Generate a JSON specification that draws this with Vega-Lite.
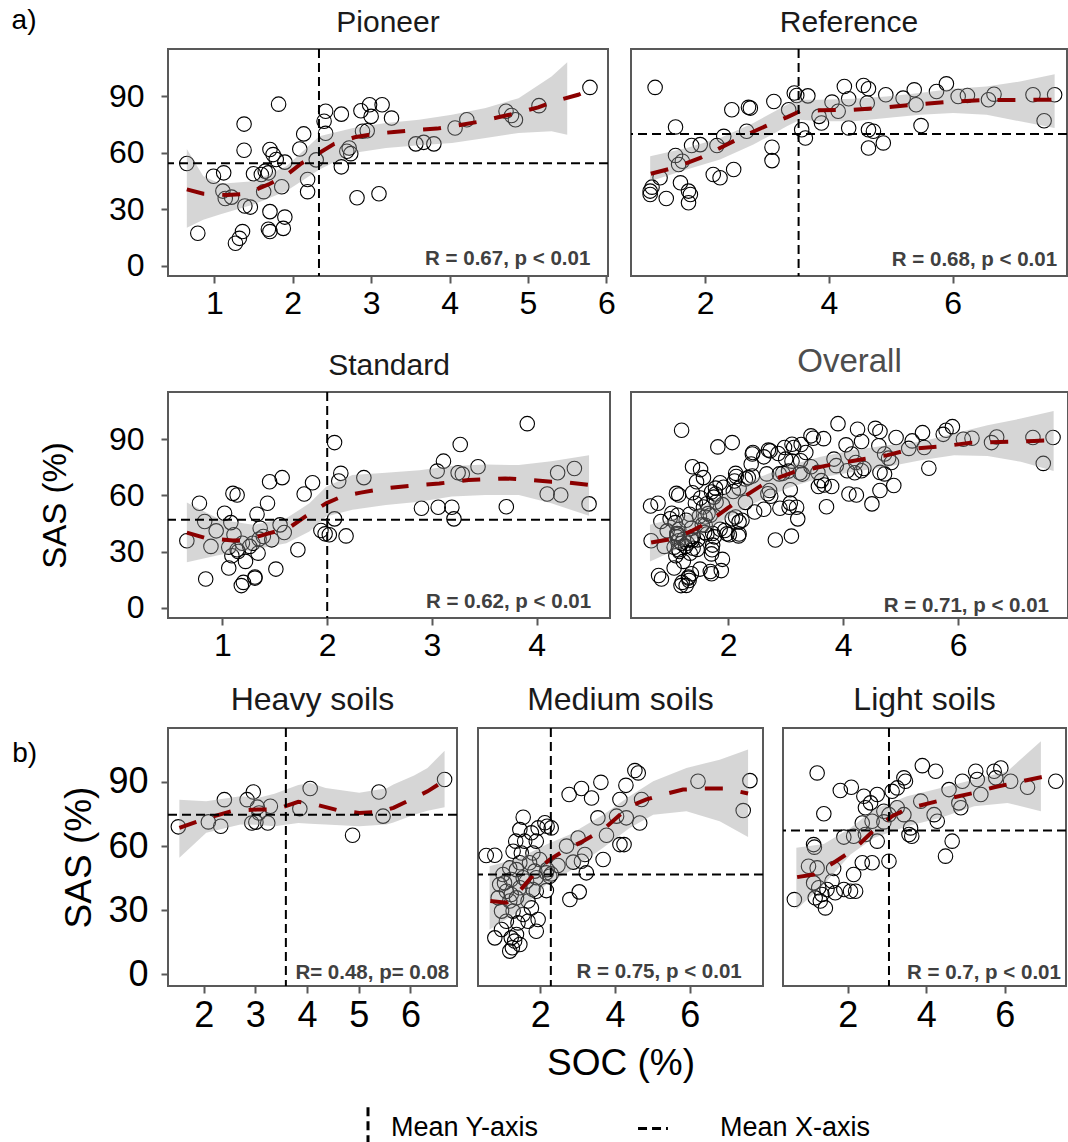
{
"$schema": "https://vega.github.io/schema/vega-lite/v6.json",
"background": "white",
"padding": {"left": 11, "top": 7, "right": 0, "bottom": 0},
"datasets": {
"pts": [
{"g":"Pioneer","x":0.65,"y":54.4},{"g":"Pioneer","x":0.99,"y":47.6},{"g":"Pioneer","x":1.12,"y":49.4},{"g":"Pioneer","x":0.79,"y":17.3},{"g":"Pioneer","x":1.27,"y":12.0},{"g":"Pioneer","x":1.32,"y":14.6},{"g":"Pioneer","x":1.36,"y":18.2},{"g":"Pioneer","x":1.39,"y":31.8},{"g":"Pioneer","x":1.46,"y":31.2},{"g":"Pioneer","x":1.14,"y":35.8},{"g":"Pioneer","x":1.11,"y":39.7},{"g":"Pioneer","x":1.22,"y":36.5},{"g":"Pioneer","x":1.38,"y":75.3},{"g":"Pioneer","x":1.38,"y":61.4},{"g":"Pioneer","x":1.50,"y":48.9},{"g":"Pioneer","x":1.60,"y":48.5},{"g":"Pioneer","x":1.69,"y":49.4},{"g":"Pioneer","x":1.65,"y":50.3},{"g":"Pioneer","x":1.71,"y":61.8},{"g":"Pioneer","x":1.75,"y":59.1},{"g":"Pioneer","x":1.79,"y":56.5},{"g":"Pioneer","x":1.90,"y":55.1},{"g":"Pioneer","x":1.82,"y":85.9},{"g":"Pioneer","x":1.63,"y":39.4},{"g":"Pioneer","x":1.71,"y":28.8},{"g":"Pioneer","x":1.90,"y":25.9},{"g":"Pioneer","x":1.69,"y":19.4},{"g":"Pioneer","x":1.71,"y":18.2},{"g":"Pioneer","x":1.88,"y":19.9},{"g":"Pioneer","x":1.86,"y":42.0},{"g":"Pioneer","x":2.09,"y":62.1},{"g":"Pioneer","x":2.14,"y":70.1},{"g":"Pioneer","x":2.19,"y":45.9},{"g":"Pioneer","x":2.19,"y":39.4},{"g":"Pioneer","x":2.30,"y":56.3},{"g":"Pioneer","x":2.42,"y":82.1},{"g":"Pioneer","x":2.40,"y":76.8},{"g":"Pioneer","x":2.42,"y":70.4},{"g":"Pioneer","x":2.62,"y":80.6},{"g":"Pioneer","x":2.62,"y":52.6},{"g":"Pioneer","x":2.72,"y":62.6},{"g":"Pioneer","x":2.74,"y":59.6},{"g":"Pioneer","x":2.69,"y":60.9},{"g":"Pioneer","x":2.82,"y":36.2},{"g":"Pioneer","x":3.10,"y":38.3},{"g":"Pioneer","x":2.87,"y":82.4},{"g":"Pioneer","x":2.98,"y":85.6},{"g":"Pioneer","x":3.14,"y":85.6},{"g":"Pioneer","x":3.00,"y":79.4},{"g":"Pioneer","x":3.26,"y":78.5},{"g":"Pioneer","x":2.89,"y":71.5},{"g":"Pioneer","x":2.95,"y":71.8},{"g":"Pioneer","x":3.57,"y":64.8},{"g":"Pioneer","x":3.67,"y":65.6},{"g":"Pioneer","x":3.80,"y":64.8},{"g":"Pioneer","x":4.07,"y":73.2},{"g":"Pioneer","x":4.22,"y":77.6},{"g":"Pioneer","x":4.72,"y":82.1},{"g":"Pioneer","x":4.79,"y":79.9},{"g":"Pioneer","x":4.84,"y":77.6},{"g":"Pioneer","x":5.14,"y":85.1},{"g":"Pioneer","x":5.79,"y":94.8},
{"g":"Reference","x":1.19,"y":94.8},{"g":"Reference","x":1.52,"y":73.8},{"g":"Reference","x":1.11,"y":39.7},{"g":"Reference","x":1.11,"y":37.9},{"g":"Reference","x":1.37,"y":35.8},{"g":"Reference","x":1.14,"y":41.8},{"g":"Reference","x":1.60,"y":44.1},{"g":"Reference","x":1.73,"y":39.7},{"g":"Reference","x":1.73,"y":33.5},{"g":"Reference","x":1.76,"y":37.9},{"g":"Reference","x":1.27,"y":46.8},{"g":"Reference","x":1.52,"y":58.6},{"g":"Reference","x":1.57,"y":53.8},{"g":"Reference","x":1.63,"y":55.6},{"g":"Reference","x":1.78,"y":63.9},{"g":"Reference","x":1.92,"y":64.4},{"g":"Reference","x":2.13,"y":48.5},{"g":"Reference","x":2.24,"y":46.8},{"g":"Reference","x":2.46,"y":51.2},{"g":"Reference","x":2.19,"y":63.9},{"g":"Reference","x":2.30,"y":68.8},{"g":"Reference","x":2.43,"y":82.9},{"g":"Reference","x":2.70,"y":84.2},{"g":"Reference","x":2.73,"y":83.8},{"g":"Reference","x":2.67,"y":71.5},{"g":"Reference","x":3.08,"y":63.0},{"g":"Reference","x":3.08,"y":55.9},{"g":"Reference","x":3.11,"y":87.3},{"g":"Reference","x":3.35,"y":82.9},{"g":"Reference","x":3.44,"y":91.8},{"g":"Reference","x":3.48,"y":90.5},{"g":"Reference","x":3.66,"y":90.3},{"g":"Reference","x":3.56,"y":72.3},{"g":"Reference","x":3.62,"y":67.9},{"g":"Reference","x":3.84,"y":79.4},{"g":"Reference","x":3.88,"y":75.9},{"g":"Reference","x":4.05,"y":87.0},{"g":"Reference","x":4.15,"y":82.1},{"g":"Reference","x":4.25,"y":95.3},{"g":"Reference","x":4.32,"y":88.8},{"g":"Reference","x":4.32,"y":73.2},{"g":"Reference","x":4.56,"y":95.8},{"g":"Reference","x":4.64,"y":94.1},{"g":"Reference","x":4.62,"y":86.5},{"g":"Reference","x":4.64,"y":72.3},{"g":"Reference","x":4.72,"y":71.5},{"g":"Reference","x":4.64,"y":62.6},{"g":"Reference","x":4.88,"y":65.3},{"g":"Reference","x":4.92,"y":90.9},{"g":"Reference","x":5.20,"y":89.1},{"g":"Reference","x":5.38,"y":93.5},{"g":"Reference","x":5.41,"y":85.6},{"g":"Reference","x":5.49,"y":74.5},{"g":"Reference","x":5.74,"y":92.6},{"g":"Reference","x":5.90,"y":96.7},{"g":"Reference","x":6.09,"y":90.0},{"g":"Reference","x":6.24,"y":90.5},{"g":"Reference","x":6.58,"y":88.2},{"g":"Reference","x":6.67,"y":91.2},{"g":"Reference","x":7.30,"y":90.9},{"g":"Reference","x":7.48,"y":77.1},{"g":"Reference","x":7.65,"y":90.9},
{"g":"Standard","x":0.66,"y":35.8},{"g":"Standard","x":0.78,"y":55.8},{"g":"Standard","x":0.83,"y":46.1},{"g":"Standard","x":0.89,"y":32.8},{"g":"Standard","x":0.84,"y":15.4},{"g":"Standard","x":0.94,"y":41.1},{"g":"Standard","x":1.02,"y":50.5},{"g":"Standard","x":1.06,"y":32.4},{"g":"Standard","x":1.06,"y":21.3},{"g":"Standard","x":1.08,"y":45.5},{"g":"Standard","x":1.10,"y":61.1},{"g":"Standard","x":1.14,"y":60.2},{"g":"Standard","x":1.11,"y":39.0},{"g":"Standard","x":1.14,"y":31.0},{"g":"Standard","x":1.18,"y":11.9},{"g":"Standard","x":1.20,"y":13.6},{"g":"Standard","x":1.22,"y":24.8},{"g":"Standard","x":1.19,"y":34.5},{"g":"Standard","x":1.29,"y":34.5},{"g":"Standard","x":1.31,"y":15.9},{"g":"Standard","x":1.33,"y":50.0},{"g":"Standard","x":1.31,"y":16.5},{"g":"Standard","x":1.36,"y":42.5},{"g":"Standard","x":1.39,"y":38.1},{"g":"Standard","x":1.34,"y":29.2},{"g":"Standard","x":1.43,"y":55.8},{"g":"Standard","x":1.45,"y":67.3},{"g":"Standard","x":1.57,"y":69.5},{"g":"Standard","x":1.51,"y":20.7},{"g":"Standard","x":1.47,"y":36.3},{"g":"Standard","x":1.55,"y":44.3},{"g":"Standard","x":1.59,"y":40.2},{"g":"Standard","x":1.72,"y":31.0},{"g":"Standard","x":1.78,"y":60.8},{"g":"Standard","x":1.86,"y":66.8},{"g":"Standard","x":1.94,"y":41.3},{"g":"Standard","x":1.98,"y":39.5},{"g":"Standard","x":2.02,"y":39.0},{"g":"Standard","x":2.07,"y":88.2},{"g":"Standard","x":2.07,"y":47.5},{"g":"Standard","x":2.11,"y":67.7},{"g":"Standard","x":2.13,"y":71.8},{"g":"Standard","x":2.18,"y":38.4},{"g":"Standard","x":2.35,"y":69.5},{"g":"Standard","x":2.90,"y":53.2},{"g":"Standard","x":3.06,"y":53.7},{"g":"Standard","x":3.19,"y":53.7},{"g":"Standard","x":3.21,"y":47.5},{"g":"Standard","x":3.05,"y":73.0},{"g":"Standard","x":3.11,"y":78.3},{"g":"Standard","x":3.25,"y":72.1},{"g":"Standard","x":3.29,"y":71.4},{"g":"Standard","x":3.27,"y":87.2},{"g":"Standard","x":3.44,"y":75.3},{"g":"Standard","x":3.71,"y":54.0},{"g":"Standard","x":3.91,"y":98.3},{"g":"Standard","x":4.10,"y":60.8},{"g":"Standard","x":4.23,"y":60.2},{"g":"Standard","x":4.20,"y":72.1},{"g":"Standard","x":4.36,"y":74.4},{"g":"Standard","x":4.50,"y":55.5},{"g":"Standard","x":1.35,"y":36.7},{"g":"Standard","x":1.09,"y":27.8},{"g":"Standard","x":1.15,"y":30.1},{"g":"Standard","x":1.26,"y":32.8}
],
"soil": [
{"g":"Heavy","x":1.51,"y":69.0},{"g":"Heavy","x":2.09,"y":71.3},{"g":"Heavy","x":2.33,"y":69.3},{"g":"Heavy","x":2.40,"y":81.7},{"g":"Heavy","x":2.84,"y":81.7},{"g":"Heavy","x":2.96,"y":85.3},{"g":"Heavy","x":2.93,"y":70.8},{"g":"Heavy","x":3.01,"y":71.2},{"g":"Heavy","x":3.04,"y":78.2},{"g":"Heavy","x":3.24,"y":70.8},{"g":"Heavy","x":3.29,"y":78.6},{"g":"Heavy","x":3.07,"y":75.5},{"g":"Heavy","x":3.86,"y":77.5},{"g":"Heavy","x":4.06,"y":86.9},{"g":"Heavy","x":4.88,"y":65.1},{"g":"Heavy","x":5.39,"y":85.3},{"g":"Heavy","x":5.47,"y":74.0},{"g":"Heavy","x":6.66,"y":91.1},
{"g":"Medium","x":2.77,"y":84.1},{"g":"Medium","x":3.10,"y":86.9},{"g":"Medium","x":3.37,"y":82.5},{"g":"Medium","x":3.62,"y":89.8},{"g":"Medium","x":4.29,"y":88.4},{"g":"Medium","x":4.53,"y":95.3},{"g":"Medium","x":4.62,"y":94.2},{"g":"Medium","x":4.13,"y":81.8},{"g":"Medium","x":4.71,"y":81.8},{"g":"Medium","x":3.54,"y":73.2},{"g":"Medium","x":4.04,"y":74.0},{"g":"Medium","x":4.30,"y":73.2},{"g":"Medium","x":4.66,"y":70.8},{"g":"Medium","x":6.22,"y":90.3},{"g":"Medium","x":7.61,"y":90.6},{"g":"Medium","x":7.43,"y":76.6},{"g":"Medium","x":3.77,"y":65.1},{"g":"Medium","x":4.13,"y":60.7},{"g":"Medium","x":4.24,"y":60.7},{"g":"Medium","x":3.01,"y":63.8},{"g":"Medium","x":2.70,"y":60.0},{"g":"Medium","x":3.19,"y":56.1},{"g":"Medium","x":3.10,"y":52.9},{"g":"Medium","x":2.88,"y":52.5},{"g":"Medium","x":3.68,"y":53.7},{"g":"Medium","x":3.23,"y":47.5},{"g":"Medium","x":2.47,"y":50.9},{"g":"Medium","x":2.79,"y":35.0},{"g":"Medium","x":3.04,"y":38.6},{"g":"Medium","x":2.18,"y":69.3},{"g":"Medium","x":2.12,"y":70.9},{"g":"Medium","x":2.29,"y":68.5},{"g":"Medium","x":2.18,"y":49.0},{"g":"Medium","x":2.16,"y":47.5},{"g":"Medium","x":2.16,"y":39.2},{"g":"Medium","x":0.55,"y":55.6},{"g":"Medium","x":0.78,"y":55.7},{"g":"Medium","x":1.54,"y":73.5},{"g":"Medium","x":1.45,"y":67.7},{"g":"Medium","x":1.76,"y":66.2},{"g":"Medium","x":1.94,"y":68.5},{"g":"Medium","x":1.34,"y":62.3},{"g":"Medium","x":1.58,"y":62.3},{"g":"Medium","x":1.89,"y":62.3},{"g":"Medium","x":1.27,"y":57.6},{"g":"Medium","x":1.49,"y":56.8},{"g":"Medium","x":1.80,"y":56.8},{"g":"Medium","x":1.45,"y":52.2},{"g":"Medium","x":1.71,"y":52.2},{"g":"Medium","x":1.98,"y":53.7},{"g":"Medium","x":1.18,"y":49.8},{"g":"Medium","x":1.36,"y":49.0},{"g":"Medium","x":1.85,"y":48.3},{"g":"Medium","x":1.00,"y":46.7},{"g":"Medium","x":1.22,"y":44.4},{"g":"Medium","x":1.63,"y":43.6},{"g":"Medium","x":1.89,"y":45.2},{"g":"Medium","x":0.91,"y":42.0},{"g":"Medium","x":1.09,"y":38.9},{"g":"Medium","x":1.45,"y":40.5},{"g":"Medium","x":1.80,"y":39.7},{"g":"Medium","x":0.87,"y":35.8},{"g":"Medium","x":1.18,"y":34.3},{"g":"Medium","x":1.36,"y":35.8},{"g":"Medium","x":1.67,"y":34.3},{"g":"Medium","x":1.89,"y":38.9},{"g":"Medium","x":0.96,"y":29.6},{"g":"Medium","x":1.27,"y":29.6},{"g":"Medium","x":1.54,"y":28.0},{"g":"Medium","x":1.76,"y":31.1},{"g":"Medium","x":1.09,"y":24.9},{"g":"Medium","x":1.40,"y":24.1},{"g":"Medium","x":1.67,"y":24.9},{"g":"Medium","x":1.94,"y":25.7},{"g":"Medium","x":0.78,"y":17.1},{"g":"Medium","x":0.96,"y":21.0},{"g":"Medium","x":1.22,"y":17.1},{"g":"Medium","x":1.31,"y":15.6},{"g":"Medium","x":1.36,"y":18.7},{"g":"Medium","x":1.25,"y":12.5},{"g":"Medium","x":1.18,"y":10.9},{"g":"Medium","x":1.45,"y":14.0},{"g":"Medium","x":1.89,"y":20.2},{"g":"Medium","x":1.04,"y":42.8},{"g":"Medium","x":1.54,"y":45.2},{"g":"Medium","x":1.22,"y":37.4},{"g":"Medium","x":2.25,"y":45.9},{"g":"Medium","x":2.29,"y":47.0},
{"g":"Light","x":1.22,"y":94.2},{"g":"Light","x":1.39,"y":75.1},{"g":"Light","x":1.13,"y":60.7},{"g":"Light","x":1.15,"y":59.5},{"g":"Light","x":1.00,"y":50.6},{"g":"Light","x":1.22,"y":49.8},{"g":"Light","x":0.64,"y":35.0},{"g":"Light","x":1.64,"y":49.5},{"g":"Light","x":1.13,"y":42.8},{"g":"Light","x":1.26,"y":40.5},{"g":"Light","x":1.17,"y":35.8},{"g":"Light","x":1.30,"y":34.3},{"g":"Light","x":1.43,"y":31.1},{"g":"Light","x":1.34,"y":37.4},{"g":"Light","x":1.47,"y":39.7},{"g":"Light","x":1.60,"y":43.6},{"g":"Light","x":1.68,"y":38.2},{"g":"Light","x":1.90,"y":39.7},{"g":"Light","x":2.07,"y":38.9},{"g":"Light","x":2.20,"y":38.9},{"g":"Light","x":2.15,"y":46.7},{"g":"Light","x":2.37,"y":52.2},{"g":"Light","x":2.62,"y":52.2},{"g":"Light","x":3.05,"y":52.9},{"g":"Light","x":1.90,"y":64.2},{"g":"Light","x":2.15,"y":64.6},{"g":"Light","x":2.45,"y":65.4},{"g":"Light","x":2.75,"y":62.3},{"g":"Light","x":1.81,"y":86.0},{"g":"Light","x":2.09,"y":87.5},{"g":"Light","x":2.41,"y":83.3},{"g":"Light","x":2.45,"y":77.9},{"g":"Light","x":2.58,"y":80.2},{"g":"Light","x":2.75,"y":84.1},{"g":"Light","x":2.37,"y":70.8},{"g":"Light","x":2.62,"y":71.6},{"g":"Light","x":2.92,"y":71.3},{"g":"Light","x":3.13,"y":85.6},{"g":"Light","x":3.26,"y":87.2},{"g":"Light","x":3.43,"y":91.9},{"g":"Light","x":3.47,"y":90.3},{"g":"Light","x":3.05,"y":74.7},{"g":"Light","x":3.43,"y":74.7},{"g":"Light","x":3.60,"y":68.5},{"g":"Light","x":3.56,"y":65.4},{"g":"Light","x":3.63,"y":64.6},{"g":"Light","x":3.86,"y":81.0},{"g":"Light","x":3.90,"y":97.6},{"g":"Light","x":4.24,"y":95.0},{"g":"Light","x":4.20,"y":74.7},{"g":"Light","x":4.28,"y":71.6},{"g":"Light","x":4.66,"y":62.3},{"g":"Light","x":4.49,"y":55.3},{"g":"Light","x":4.58,"y":86.4},{"g":"Light","x":4.83,"y":80.2},{"g":"Light","x":4.88,"y":77.9},{"g":"Light","x":4.92,"y":90.3},{"g":"Light","x":5.26,"y":95.0},{"g":"Light","x":5.30,"y":91.1},{"g":"Light","x":5.39,"y":84.1},{"g":"Light","x":5.73,"y":95.0},{"g":"Light","x":5.90,"y":96.5},{"g":"Light","x":5.77,"y":91.9},{"g":"Light","x":6.15,"y":90.3},{"g":"Light","x":6.58,"y":87.5},{"g":"Light","x":7.30,"y":90.3},{"g":"Light","x":2.92,"y":76.3},{"g":"Light","x":3.26,"y":77.9}
],
"fit": [
{"g":"Pioneer","x":0.65,"f":40.6},{"g":"Pioneer","x":0.86,"f":38.3},{"g":"Pioneer","x":1.16,"f":37.6},{"g":"Pioneer","x":1.41,"f":38.3},{"g":"Pioneer","x":1.71,"f":43.6},{"g":"Pioneer","x":1.92,"f":48.2},{"g":"Pioneer","x":2.11,"f":54.4},{"g":"Pioneer","x":2.32,"f":59.5},{"g":"Pioneer","x":2.53,"f":64.8},{"g":"Pioneer","x":2.79,"f":68.3},{"g":"Pioneer","x":3.06,"f":70.2},{"g":"Pioneer","x":3.29,"f":71.1},{"g":"Pioneer","x":3.61,"f":72.3},{"g":"Pioneer","x":3.84,"f":72.9},{"g":"Pioneer","x":4.10,"f":74.6},{"g":"Pioneer","x":4.35,"f":76.4},{"g":"Pioneer","x":4.62,"f":78.9},{"g":"Pioneer","x":4.86,"f":81.2},{"g":"Pioneer","x":5.13,"f":84.2},{"g":"Pioneer","x":5.36,"f":87.7},{"g":"Pioneer","x":5.64,"f":90.9},{"g":"Pioneer","x":5.79,"f":93.5},
{"g":"Reference","x":1.12,"f":48.9},{"g":"Reference","x":1.49,"f":52.1},{"g":"Reference","x":1.92,"f":57.3},{"g":"Reference","x":2.24,"f":62.6},{"g":"Reference","x":2.67,"f":69.7},{"g":"Reference","x":3.05,"f":75.3},{"g":"Reference","x":3.32,"f":78.9},{"g":"Reference","x":3.53,"f":82.1},{"g":"Reference","x":3.86,"f":82.6},{"g":"Reference","x":4.40,"f":82.9},{"g":"Reference","x":4.93,"f":84.2},{"g":"Reference","x":5.47,"f":85.9},{"g":"Reference","x":6.01,"f":87.3},{"g":"Reference","x":6.55,"f":88.1},{"g":"Reference","x":7.30,"f":88.2},{"g":"Reference","x":7.65,"f":88.3},
{"g":"Standard","x":0.66,"f":40.2},{"g":"Standard","x":0.84,"f":37.2},{"g":"Standard","x":1.10,"f":36.0},{"g":"Standard","x":1.23,"f":36.3},{"g":"Standard","x":1.45,"f":39.9},{"g":"Standard","x":1.63,"f":42.5},{"g":"Standard","x":1.80,"f":49.1},{"g":"Standard","x":1.99,"f":55.8},{"g":"Standard","x":2.15,"f":59.7},{"g":"Standard","x":2.32,"f":61.5},{"g":"Standard","x":2.56,"f":63.8},{"g":"Standard","x":2.88,"f":65.6},{"g":"Standard","x":3.07,"f":66.4},{"g":"Standard","x":3.35,"f":68.2},{"g":"Standard","x":3.70,"f":69.1},{"g":"Standard","x":3.86,"f":68.6},{"g":"Standard","x":4.14,"f":67.3},{"g":"Standard","x":4.24,"f":67.3},{"g":"Standard","x":4.50,"f":65.6},
{"g":"Overall","x":0.66,"f":34.9},{"g":"Overall","x":1.00,"f":36.7},{"g":"Overall","x":1.35,"f":40.8},{"g":"Overall","x":1.64,"f":45.5},{"g":"Overall","x":1.99,"f":53.2},{"g":"Overall","x":2.28,"f":59.4},{"g":"Overall","x":2.68,"f":67.3},{"g":"Overall","x":3.15,"f":72.6},{"g":"Overall","x":3.47,"f":74.4},{"g":"Overall","x":3.90,"f":77.1},{"g":"Overall","x":4.19,"f":78.5},{"g":"Overall","x":4.77,"f":81.5},{"g":"Overall","x":5.23,"f":85.0},{"g":"Overall","x":5.76,"f":86.3},{"g":"Overall","x":6.22,"f":88.1},{"g":"Overall","x":7.32,"f":89.1},{"g":"Overall","x":7.64,"f":89.5},
{"g":"Heavy","x":1.53,"f":68.5},{"g":"Heavy","x":2.05,"f":72.9},{"g":"Heavy","x":2.58,"f":76.6},{"g":"Heavy","x":3.04,"f":77.1},{"g":"Heavy","x":3.40,"f":77.1},{"g":"Heavy","x":3.83,"f":80.7},{"g":"Heavy","x":4.13,"f":79.7},{"g":"Heavy","x":4.62,"f":76.6},{"g":"Heavy","x":5.01,"f":75.5},{"g":"Heavy","x":5.41,"f":76.0},{"g":"Heavy","x":5.67,"f":77.9},{"g":"Heavy","x":6.07,"f":82.5},{"g":"Heavy","x":6.33,"f":85.6},{"g":"Heavy","x":6.66,"f":90.6},
{"g":"Medium","x":0.66,"f":34.3},{"g":"Medium","x":1.09,"f":33.5},{"g":"Medium","x":1.36,"f":37.4},{"g":"Medium","x":1.67,"f":43.6},{"g":"Medium","x":1.98,"f":49.8},{"g":"Medium","x":2.25,"f":53.7},{"g":"Medium","x":2.61,"f":57.6},{"g":"Medium","x":3.14,"f":62.3},{"g":"Medium","x":3.68,"f":67.7},{"g":"Medium","x":4.04,"f":73.2},{"g":"Medium","x":4.39,"f":78.6},{"g":"Medium","x":4.84,"f":81.8},{"g":"Medium","x":5.29,"f":84.1},{"g":"Medium","x":5.82,"f":86.4},{"g":"Medium","x":6.36,"f":86.9},{"g":"Medium","x":6.89,"f":86.9},{"g":"Medium","x":7.29,"f":85.6},{"g":"Medium","x":7.56,"f":84.6},
{"g":"Light","x":0.71,"f":45.5},{"g":"Light","x":1.13,"f":46.7},{"g":"Light","x":1.64,"f":52.2},{"g":"Light","x":2.15,"f":58.4},{"g":"Light","x":2.66,"f":67.3},{"g":"Light","x":3.13,"f":74.0},{"g":"Light","x":3.51,"f":77.4},{"g":"Light","x":4.11,"f":80.2},{"g":"Light","x":4.62,"f":82.5},{"g":"Light","x":5.22,"f":84.9},{"g":"Light","x":5.73,"f":87.5},{"g":"Light","x":6.24,"f":89.5},{"g":"Light","x":6.92,"f":92.2},{"g":"Light","x":7.30,"f":93.7}
],
"band": [
{"g":"Pioneer","x":0.65,"lo":20.3,"hi":62.1},{"g":"Pioneer","x":0.86,"lo":24.5,"hi":47.6},{"g":"Pioneer","x":1.08,"lo":27.4,"hi":43.6},{"g":"Pioneer","x":1.50,"lo":32.6,"hi":45.0},{"g":"Pioneer","x":1.92,"lo":39.7,"hi":52.9},{"g":"Pioneer","x":2.34,"lo":51.2,"hi":68.8},{"g":"Pioneer","x":2.77,"lo":60.0,"hi":73.2},{"g":"Pioneer","x":3.19,"lo":62.6,"hi":75.9},{"g":"Pioneer","x":3.61,"lo":64.1,"hi":77.6},{"g":"Pioneer","x":4.03,"lo":65.3,"hi":80.3},{"g":"Pioneer","x":4.46,"lo":67.9,"hi":83.8},{"g":"Pioneer","x":4.88,"lo":70.6,"hi":89.1},{"g":"Pioneer","x":5.30,"lo":71.5,"hi":100.6},{"g":"Pioneer","x":5.50,"lo":69.7,"hi":108.2},
{"g":"Reference","x":1.11,"lo":45.0,"hi":58.2},{"g":"Reference","x":1.70,"lo":51.2,"hi":62.6},{"g":"Reference","x":2.24,"lo":56.5,"hi":67.9},{"g":"Reference","x":2.78,"lo":64.4,"hi":75.9},{"g":"Reference","x":3.32,"lo":74.1,"hi":85.6},{"g":"Reference","x":3.53,"lo":77.6,"hi":88.2},{"g":"Reference","x":3.86,"lo":76.8,"hi":88.2},{"g":"Reference","x":4.40,"lo":76.8,"hi":88.8},{"g":"Reference","x":4.93,"lo":78.5,"hi":90.0},{"g":"Reference","x":5.47,"lo":80.3,"hi":91.8},{"g":"Reference","x":6.01,"lo":81.2,"hi":94.1},{"g":"Reference","x":6.55,"lo":80.3,"hi":95.3},{"g":"Reference","x":7.09,"lo":76.8,"hi":97.9},{"g":"Reference","x":7.65,"lo":73.2,"hi":101.8},
{"g":"Standard","x":0.66,"lo":24.3,"hi":56.2},{"g":"Standard","x":0.98,"lo":28.3,"hi":47.0},{"g":"Standard","x":1.29,"lo":31.0,"hi":44.3},{"g":"Standard","x":1.61,"lo":34.5,"hi":47.8},{"g":"Standard","x":1.83,"lo":40.8,"hi":55.8},{"g":"Standard","x":1.99,"lo":48.7,"hi":64.7},{"g":"Standard","x":2.24,"lo":52.3,"hi":70.9},{"g":"Standard","x":2.56,"lo":54.9,"hi":72.1},{"g":"Standard","x":2.88,"lo":56.7,"hi":73.5},{"g":"Standard","x":3.19,"lo":59.4,"hi":75.7},{"g":"Standard","x":3.51,"lo":60.2,"hi":76.5},{"g":"Standard","x":3.83,"lo":60.2,"hi":76.2},{"g":"Standard","x":4.14,"lo":55.8,"hi":78.3},{"g":"Standard","x":4.50,"lo":49.1,"hi":81.5},
{"g":"Overall","x":0.64,"lo":24.8,"hi":44.3},{"g":"Overall","x":1.29,"lo":33.7,"hi":49.6},{"g":"Overall","x":1.87,"lo":46.1,"hi":59.4},{"g":"Overall","x":2.45,"lo":55.8,"hi":68.6},{"g":"Overall","x":3.03,"lo":63.8,"hi":75.7},{"g":"Overall","x":3.61,"lo":69.6,"hi":80.6},{"g":"Overall","x":4.19,"lo":72.6,"hi":84.2},{"g":"Overall","x":4.77,"lo":75.3,"hi":86.8},{"g":"Overall","x":5.35,"lo":78.8,"hi":88.6},{"g":"Overall","x":5.93,"lo":81.5,"hi":93.0},{"g":"Overall","x":6.51,"lo":81.0,"hi":97.4},{"g":"Overall","x":7.09,"lo":78.0,"hi":101.0},{"g":"Overall","x":7.66,"lo":73.0,"hi":105.1},
{"g":"Heavy","x":1.53,"lo":54.5,"hi":81.7},{"g":"Heavy","x":2.05,"lo":66.2,"hi":81.0},{"g":"Heavy","x":2.71,"lo":70.1,"hi":83.3},{"g":"Heavy","x":3.04,"lo":70.0,"hi":82.5},{"g":"Heavy","x":3.37,"lo":69.3,"hi":84.5},{"g":"Heavy","x":3.83,"lo":70.8,"hi":88.5},{"g":"Heavy","x":4.06,"lo":70.5,"hi":89.5},{"g":"Heavy","x":4.36,"lo":70.1,"hi":87.2},{"g":"Heavy","x":5.01,"lo":69.3,"hi":84.9},{"g":"Heavy","x":5.54,"lo":70.1,"hi":87.0},{"g":"Heavy","x":5.67,"lo":71.0,"hi":88.8},{"g":"Heavy","x":6.07,"lo":74.7,"hi":93.0},{"g":"Heavy","x":6.33,"lo":76.5,"hi":96.5},{"g":"Heavy","x":6.66,"lo":78.2,"hi":104.6},
{"g":"Medium","x":0.64,"lo":21.0,"hi":50.6},{"g":"Medium","x":1.45,"lo":29.6,"hi":54.5},{"g":"Medium","x":2.16,"lo":42.0,"hi":60.7},{"g":"Medium","x":2.79,"lo":48.3,"hi":65.4},{"g":"Medium","x":3.68,"lo":59.2,"hi":74.7},{"g":"Medium","x":4.39,"lo":68.5,"hi":83.3},{"g":"Medium","x":5.02,"lo":74.7,"hi":90.3},{"g":"Medium","x":5.91,"lo":76.3,"hi":96.5},{"g":"Medium","x":6.80,"lo":71.6,"hi":100.4},{"g":"Medium","x":7.56,"lo":64.2,"hi":105.1},
{"g":"Light","x":0.69,"lo":30.4,"hi":59.2},{"g":"Light","x":1.39,"lo":42.0,"hi":61.0},{"g":"Light","x":2.07,"lo":56.1,"hi":68.5},{"g":"Light","x":2.66,"lo":63.8,"hi":77.1},{"g":"Light","x":3.51,"lo":69.3,"hi":83.3},{"g":"Light","x":4.37,"lo":73.2,"hi":87.2},{"g":"Light","x":5.22,"lo":78.6,"hi":91.1},{"g":"Light","x":6.07,"lo":80.2,"hi":95.0},{"g":"Light","x":6.92,"lo":76.3,"hi":109.0}
],
"means": [
{"g":"Pioneer","kind":"Mean Y-axis","v":2.335},{"g":"Pioneer","kind":"Mean X-axis","v":54.5},
{"g":"Reference","kind":"Mean Y-axis","v":3.51},{"g":"Reference","kind":"Mean X-axis","v":70.1},
{"g":"Standard","kind":"Mean Y-axis","v":2.0},{"g":"Standard","kind":"Mean X-axis","v":47.0},
{"g":"Heavy","kind":"Mean Y-axis","v":3.59},{"g":"Heavy","kind":"Mean X-axis","v":74.7},
{"g":"Medium","kind":"Mean Y-axis","v":2.28},{"g":"Medium","kind":"Mean X-axis","v":46.7},
{"g":"Light","kind":"Mean Y-axis","v":3.05},{"g":"Light","kind":"Mean X-axis","v":67.3}
],
"notes": [
{"g":"Pioneer","x":5.795,"y":0.5,"label":"R = 0.67, p < 0.01"},
{"g":"Reference","x":7.69,"y":-0.3,"label":"R = 0.68, p < 0.01"},
{"g":"Standard","x":4.52,"y":0,"label":"R = 0.62, p < 0.01"},
{"g":"Overall","x":7.58,"y":-2,"label":"R = 0.71, p < 0.01"},
{"g":"Heavy","x":6.75,"y":-2.2,"label":"R= 0.48, p= 0.08"},
{"g":"Medium","x":7.39,"y":-1.7,"label":"R = 0.75, p < 0.01"},
{"g":"Light","x":7.43,"y":-2.2,"label":"R = 0.7, p < 0.01"}
]
},
"config": {
"view": {"stroke": "#595959", "strokeWidth": 2},
"axis": {"grid": false, "domain": false, "format": "d", "labelFlush": false, "labelOverlap": false, "tickColor": "#595959", "tickWidth": 2, "tickSize": 7, "labelFont": "Liberation Sans", "labelFontSize": 32, "labelColor": "black", "titleFont": "Liberation Sans", "titleFontSize": 33, "titleFontWeight": "normal", "titleColor": "black"},
"axisX": {"labelPadding": 5},
"axisY": {"labelPadding": 17},
"title": {"font": "Liberation Sans", "fontSize": 30, "fontWeight": "normal", "color": "#1a1a1a", "offset": 10}
},
"resolve": {"scale": {"strokeDash": "shared"}, "legend": {"strokeDash": "shared"}},
"concat": [
{
"columns": 2,
"spacing": {"row": 25, "column": 12},
"title": {"text": "a)", "orient": "left", "anchor": "end", "angle": 0, "align": "right", "baseline": "top", "offset": 0, "dx": 23, "font": "Liberation Sans", "fontSize": 28, "color": "black"},
"concat": [
{"width": 440, "height": 227, "title": {"text": "Pioneer"},
"layer": [
{"data": {"name": "pts"}, "transform": [{"filter": "datum.g === 'Pioneer'"}], "mark": {"type": "point", "shape": "circle", "filled": false, "stroke": "black", "strokeWidth": 1.1, "size": 210, "opacity": 1},
"encoding": {"x": {"field": "x", "type": "quantitative", "scale": {"domain": [0.41, 6.02], "nice": false, "zero": false}, "axis": {"values": [1,2,3,4,5,6], "title": null}},
"y": {"field": "y", "type": "quantitative", "scale": {"domain": [-5.4, 115.2], "nice": false, "zero": false}, "axis": {"values": [0,30,60,90], "title": null}}}},
{"data": {"name": "band"}, "transform": [{"filter": "datum.g === 'Pioneer'"}], "mark": {"type": "area", "color": "#999999", "opacity": 0.4},
"encoding": {"x": {"field": "x", "type": "quantitative"}, "y": {"field": "lo", "type": "quantitative"}, "y2": {"field": "hi"}}},
{"data": {"name": "fit"}, "transform": [{"filter": "datum.g === 'Pioneer'"}], "mark": {"type": "line", "color": "#8b0000", "strokeWidth": 4, "strokeDash": [18, 18]},
"encoding": {"x": {"field": "x", "type": "quantitative"}, "y": {"field": "f", "type": "quantitative"}}},
{"data": {"name": "means"}, "transform": [{"filter": "datum.g === 'Pioneer' && datum.kind === 'Mean Y-axis'"}], "mark": {"type": "rule", "color": "black", "strokeWidth": 2},
"encoding": {"x": {"field": "v", "type": "quantitative"}, "strokeDash": {"field": "kind", "type": "nominal", "scale": {"domain": ["Mean Y-axis", "Mean X-axis"], "range": [[9, 5], [9, 5]]},
"legend": {"title": null, "orient": "none", "legendX": 177, "legendY": 1056, "direction": "horizontal", "labelFont": "Liberation Sans", "labelFontSize": 27, "labelColor": "black", "symbolStrokeColor": "black", "symbolStrokeWidth": 3, "columnPadding": 93, "labelOffset": 0, "encode": {"symbols": {"update": {"shape": {"signal": "datum.value === 'Mean Y-axis' ? 'M0,-1L0,1' : 'M0,-1M-2.78,0L-1.37,0M0,1'"}, "size": {"value": 1800}}}}}}}},
{"data": {"name": "means"}, "transform": [{"filter": "datum.g === 'Pioneer' && datum.kind === 'Mean X-axis'"}], "mark": {"type": "rule", "color": "black", "strokeWidth": 2},
"encoding": {"y": {"field": "v", "type": "quantitative"}, "strokeDash": {"field": "kind", "type": "nominal"}}},
{"data": {"name": "notes"}, "transform": [{"filter": "datum.g === 'Pioneer'"}], "mark": {"type": "text", "align": "right", "baseline": "alphabetic", "font": "Liberation Sans", "fontWeight": "bold", "fontSize": 20.5, "color": "#404040"},
"encoding": {"x": {"field": "x", "type": "quantitative"}, "y": {"field": "y", "type": "quantitative"}, "text": {"field": "label"}}}
]},
{"width": 436, "height": 227, "title": {"text": "Reference"},
"layer": [
{"data": {"name": "pts"}, "transform": [{"filter": "datum.g === 'Reference'"}], "mark": {"type": "point", "shape": "circle", "filled": false, "stroke": "black", "strokeWidth": 1.1, "size": 210, "opacity": 1},
"encoding": {"x": {"field": "x", "type": "quantitative", "scale": {"domain": [0.80, 7.85], "nice": false, "zero": false}, "axis": {"values": [2,4,6], "title": null}},
"y": {"field": "y", "type": "quantitative", "scale": {"domain": [-5.4, 115.2], "nice": false, "zero": false}, "axis": null}}},
{"data": {"name": "band"}, "transform": [{"filter": "datum.g === 'Reference'"}], "mark": {"type": "area", "color": "#999999", "opacity": 0.4},
"encoding": {"x": {"field": "x", "type": "quantitative"}, "y": {"field": "lo", "type": "quantitative"}, "y2": {"field": "hi"}}},
{"data": {"name": "fit"}, "transform": [{"filter": "datum.g === 'Reference'"}], "mark": {"type": "line", "color": "#8b0000", "strokeWidth": 4, "strokeDash": [18, 18]},
"encoding": {"x": {"field": "x", "type": "quantitative"}, "y": {"field": "f", "type": "quantitative"}}},
{"data": {"name": "means"}, "transform": [{"filter": "datum.g === 'Reference' && datum.kind === 'Mean Y-axis'"}], "mark": {"type": "rule", "color": "black", "strokeWidth": 2},
"encoding": {"x": {"field": "v", "type": "quantitative"}, "strokeDash": {"field": "kind", "type": "nominal"}}},
{"data": {"name": "means"}, "transform": [{"filter": "datum.g === 'Reference' && datum.kind === 'Mean X-axis'"}], "mark": {"type": "rule", "color": "black", "strokeWidth": 2},
"encoding": {"y": {"field": "v", "type": "quantitative"}, "strokeDash": {"field": "kind", "type": "nominal"}}},
{"data": {"name": "notes"}, "transform": [{"filter": "datum.g === 'Reference'"}], "mark": {"type": "text", "align": "right", "baseline": "alphabetic", "font": "Liberation Sans", "fontWeight": "bold", "fontSize": 20.5, "color": "#404040"},
"encoding": {"x": {"field": "x", "type": "quantitative"}, "y": {"field": "y", "type": "quantitative"}, "text": {"field": "label"}}}
]},
{"width": 442, "height": 226, "title": {"text": "Standard"},
"layer": [
{"data": {"name": "pts"}, "transform": [{"filter": "datum.g === 'Standard'"}], "mark": {"type": "point", "shape": "circle", "filled": false, "stroke": "black", "strokeWidth": 1.1, "size": 210, "opacity": 1},
"encoding": {"x": {"field": "x", "type": "quantitative", "scale": {"domain": [0.48, 4.70], "nice": false, "zero": false}, "axis": {"values": [1,2,3,4], "title": null}},
"y": {"field": "y", "type": "quantitative", "scale": {"domain": [-5.4, 115.2], "nice": false, "zero": false}, "axis": {"values": [0,30,60,90], "title": "SAS (%)", "titlePadding": 36}}}},
{"data": {"name": "band"}, "transform": [{"filter": "datum.g === 'Standard'"}], "mark": {"type": "area", "color": "#999999", "opacity": 0.4},
"encoding": {"x": {"field": "x", "type": "quantitative"}, "y": {"field": "lo", "type": "quantitative"}, "y2": {"field": "hi"}}},
{"data": {"name": "fit"}, "transform": [{"filter": "datum.g === 'Standard'"}], "mark": {"type": "line", "color": "#8b0000", "strokeWidth": 4, "strokeDash": [18, 18]},
"encoding": {"x": {"field": "x", "type": "quantitative"}, "y": {"field": "f", "type": "quantitative"}}},
{"data": {"name": "means"}, "transform": [{"filter": "datum.g === 'Standard' && datum.kind === 'Mean Y-axis'"}], "mark": {"type": "rule", "color": "black", "strokeWidth": 2},
"encoding": {"x": {"field": "v", "type": "quantitative"}, "strokeDash": {"field": "kind", "type": "nominal"}}},
{"data": {"name": "means"}, "transform": [{"filter": "datum.g === 'Standard' && datum.kind === 'Mean X-axis'"}], "mark": {"type": "rule", "color": "black", "strokeWidth": 2},
"encoding": {"y": {"field": "v", "type": "quantitative"}, "strokeDash": {"field": "kind", "type": "nominal"}}},
{"data": {"name": "notes"}, "transform": [{"filter": "datum.g === 'Standard'"}], "mark": {"type": "text", "align": "right", "baseline": "alphabetic", "font": "Liberation Sans", "fontWeight": "bold", "fontSize": 20.5, "color": "#404040"},
"encoding": {"x": {"field": "x", "type": "quantitative"}, "y": {"field": "y", "type": "quantitative"}, "text": {"field": "label"}}}
]},
{"width": 437, "height": 226, "title": {"text": "Overall", "font": "Liberation Sans", "fontSize": 33, "color": "#4d4d4d", "offset": 13},
"layer": [
{"data": {"name": "pts"}, "mark": {"type": "point", "shape": "circle", "filled": false, "stroke": "black", "strokeWidth": 1.1, "size": 210, "opacity": 1},
"encoding": {"x": {"field": "x", "type": "quantitative", "scale": {"domain": [0.31, 7.91], "nice": false, "zero": false}, "axis": {"values": [2,4,6], "title": null}},
"y": {"field": "y", "type": "quantitative", "scale": {"domain": [-5.4, 115.2], "nice": false, "zero": false}, "axis": null}}},
{"data": {"name": "band"}, "transform": [{"filter": "datum.g === 'Overall'"}], "mark": {"type": "area", "color": "#999999", "opacity": 0.4},
"encoding": {"x": {"field": "x", "type": "quantitative"}, "y": {"field": "lo", "type": "quantitative"}, "y2": {"field": "hi"}}},
{"data": {"name": "fit"}, "transform": [{"filter": "datum.g === 'Overall'"}], "mark": {"type": "line", "color": "#8b0000", "strokeWidth": 4, "strokeDash": [18, 18]},
"encoding": {"x": {"field": "x", "type": "quantitative"}, "y": {"field": "f", "type": "quantitative"}}},
{"data": {"name": "notes"}, "transform": [{"filter": "datum.g === 'Overall'"}], "mark": {"type": "text", "align": "right", "baseline": "alphabetic", "font": "Liberation Sans", "fontWeight": "bold", "fontSize": 20.5, "color": "#404040"},
"encoding": {"x": {"field": "x", "type": "quantitative"}, "y": {"field": "y", "type": "quantitative"}, "text": {"field": "label"}}}
]}
]
},
{
"spacing": 16,
"title": {"text": "b)", "orient": "left", "anchor": "end", "angle": 0, "align": "right", "baseline": "top", "offset": 0, "dx": 2, "dy": 57, "font": "Liberation Sans", "fontSize": 28, "color": "black"},
"hconcat": [
{"width": 289, "height": 258, "title": {"text": "Heavy soils", "fontSize": 32},
"layer": [
{"data": {"name": "soil"}, "transform": [{"filter": "datum.g === 'Heavy'"}], "mark": {"type": "point", "shape": "circle", "filled": false, "stroke": "black", "strokeWidth": 1.1, "size": 210, "opacity": 1},
"encoding": {"x": {"field": "x", "type": "quantitative", "scale": {"domain": [1.31, 6.90], "nice": false, "zero": false}, "axis": {"values": [2,3,4,5,6], "title": null, "labelFontSize": 36}},
"y": {"field": "y", "type": "quantitative", "scale": {"domain": [-5.4, 115.2], "nice": false, "zero": false}, "axis": {"values": [0,30,60,90], "title": "SAS (%)", "labelFontSize": 36, "labelPadding": 13, "titleFontSize": 37, "titlePadding": 9}}}},
{"data": {"name": "band"}, "transform": [{"filter": "datum.g === 'Heavy'"}], "mark": {"type": "area", "color": "#999999", "opacity": 0.4},
"encoding": {"x": {"field": "x", "type": "quantitative"}, "y": {"field": "lo", "type": "quantitative"}, "y2": {"field": "hi"}}},
{"data": {"name": "fit"}, "transform": [{"filter": "datum.g === 'Heavy'"}], "mark": {"type": "line", "color": "#8b0000", "strokeWidth": 4, "strokeDash": [18, 18]},
"encoding": {"x": {"field": "x", "type": "quantitative"}, "y": {"field": "f", "type": "quantitative"}}},
{"data": {"name": "means"}, "transform": [{"filter": "datum.g === 'Heavy' && datum.kind === 'Mean Y-axis'"}], "mark": {"type": "rule", "color": "black", "strokeWidth": 2},
"encoding": {"x": {"field": "v", "type": "quantitative"}, "strokeDash": {"field": "kind", "type": "nominal"}}},
{"data": {"name": "means"}, "transform": [{"filter": "datum.g === 'Heavy' && datum.kind === 'Mean X-axis'"}], "mark": {"type": "rule", "color": "black", "strokeWidth": 2},
"encoding": {"y": {"field": "v", "type": "quantitative"}, "strokeDash": {"field": "kind", "type": "nominal"}}},
{"data": {"name": "notes"}, "transform": [{"filter": "datum.g === 'Heavy'"}], "mark": {"type": "text", "align": "right", "baseline": "alphabetic", "font": "Liberation Sans", "fontWeight": "bold", "fontSize": 20.5, "color": "#404040"},
"encoding": {"x": {"field": "x", "type": "quantitative"}, "y": {"field": "y", "type": "quantitative"}, "text": {"field": "label"}}}
]},
{"width": 285, "height": 258, "title": {"text": "Medium soils", "fontSize": 32},
"layer": [
{"data": {"name": "soil"}, "transform": [{"filter": "datum.g === 'Medium'"}], "mark": {"type": "point", "shape": "circle", "filled": false, "stroke": "black", "strokeWidth": 1.1, "size": 210, "opacity": 1},
"encoding": {"x": {"field": "x", "type": "quantitative", "scale": {"domain": [0.33, 7.96], "nice": false, "zero": false}, "axis": {"values": [2,4,6], "title": "SOC (%)", "labelFontSize": 36, "titleFontSize": 37, "titlePadding": 12}},
"y": {"field": "y", "type": "quantitative", "scale": {"domain": [-5.4, 115.2], "nice": false, "zero": false}, "axis": null}}},
{"data": {"name": "band"}, "transform": [{"filter": "datum.g === 'Medium'"}], "mark": {"type": "area", "color": "#999999", "opacity": 0.4},
"encoding": {"x": {"field": "x", "type": "quantitative"}, "y": {"field": "lo", "type": "quantitative"}, "y2": {"field": "hi"}}},
{"data": {"name": "fit"}, "transform": [{"filter": "datum.g === 'Medium'"}], "mark": {"type": "line", "color": "#8b0000", "strokeWidth": 4, "strokeDash": [18, 18]},
"encoding": {"x": {"field": "x", "type": "quantitative"}, "y": {"field": "f", "type": "quantitative"}}},
{"data": {"name": "means"}, "transform": [{"filter": "datum.g === 'Medium' && datum.kind === 'Mean Y-axis'"}], "mark": {"type": "rule", "color": "black", "strokeWidth": 2},
"encoding": {"x": {"field": "v", "type": "quantitative"}, "strokeDash": {"field": "kind", "type": "nominal"}}},
{"data": {"name": "means"}, "transform": [{"filter": "datum.g === 'Medium' && datum.kind === 'Mean X-axis'"}], "mark": {"type": "rule", "color": "black", "strokeWidth": 2},
"encoding": {"y": {"field": "v", "type": "quantitative"}, "strokeDash": {"field": "kind", "type": "nominal"}}},
{"data": {"name": "notes"}, "transform": [{"filter": "datum.g === 'Medium'"}], "mark": {"type": "text", "align": "right", "baseline": "alphabetic", "font": "Liberation Sans", "fontWeight": "bold", "fontSize": 20.5, "color": "#404040"},
"encoding": {"x": {"field": "x", "type": "quantitative"}, "y": {"field": "y", "type": "quantitative"}, "text": {"field": "label"}}}
]},
{"width": 283, "height": 258, "title": {"text": "Light soils", "fontSize": 32},
"layer": [
{"data": {"name": "soil"}, "transform": [{"filter": "datum.g === 'Light'"}], "mark": {"type": "point", "shape": "circle", "filled": false, "stroke": "black", "strokeWidth": 1.1, "size": 210, "opacity": 1},
"encoding": {"x": {"field": "x", "type": "quantitative", "scale": {"domain": [0.35, 7.56], "nice": false, "zero": false}, "axis": {"values": [2,4,6], "title": null, "labelFontSize": 36}},
"y": {"field": "y", "type": "quantitative", "scale": {"domain": [-5.4, 115.2], "nice": false, "zero": false}, "axis": null}}},
{"data": {"name": "band"}, "transform": [{"filter": "datum.g === 'Light'"}], "mark": {"type": "area", "color": "#999999", "opacity": 0.4},
"encoding": {"x": {"field": "x", "type": "quantitative"}, "y": {"field": "lo", "type": "quantitative"}, "y2": {"field": "hi"}}},
{"data": {"name": "fit"}, "transform": [{"filter": "datum.g === 'Light'"}], "mark": {"type": "line", "color": "#8b0000", "strokeWidth": 4, "strokeDash": [18, 18]},
"encoding": {"x": {"field": "x", "type": "quantitative"}, "y": {"field": "f", "type": "quantitative"}}},
{"data": {"name": "means"}, "transform": [{"filter": "datum.g === 'Light' && datum.kind === 'Mean Y-axis'"}], "mark": {"type": "rule", "color": "black", "strokeWidth": 2},
"encoding": {"x": {"field": "v", "type": "quantitative"}, "strokeDash": {"field": "kind", "type": "nominal"}}},
{"data": {"name": "means"}, "transform": [{"filter": "datum.g === 'Light' && datum.kind === 'Mean X-axis'"}], "mark": {"type": "rule", "color": "black", "strokeWidth": 2},
"encoding": {"y": {"field": "v", "type": "quantitative"}, "strokeDash": {"field": "kind", "type": "nominal"}}},
{"data": {"name": "notes"}, "transform": [{"filter": "datum.g === 'Light'"}], "mark": {"type": "text", "align": "right", "baseline": "alphabetic", "font": "Liberation Sans", "fontWeight": "bold", "fontSize": 20.5, "color": "#404040"},
"encoding": {"x": {"field": "x", "type": "quantitative"}, "y": {"field": "y", "type": "quantitative"}, "text": {"field": "label"}}}
]}
]
}
],
"columns": 1,
"align": "none",
"spacing": 21
}
